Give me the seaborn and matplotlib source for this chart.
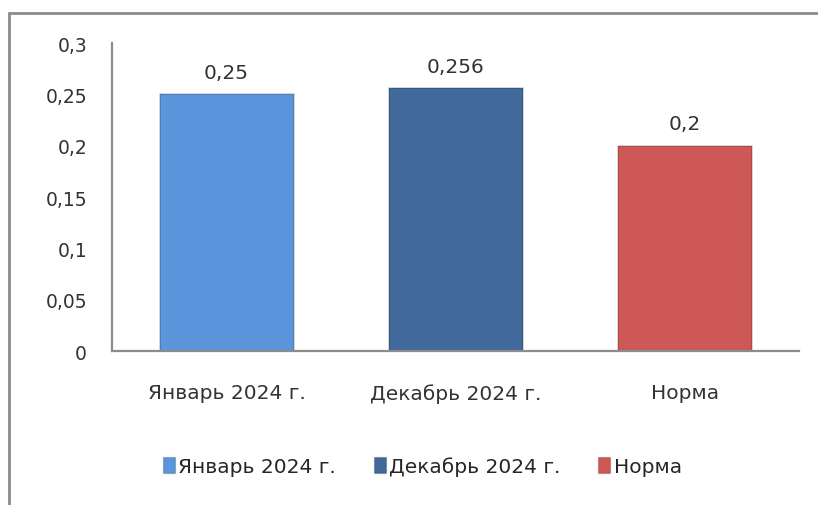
import pandas as pd
import matplotlib.pyplot as plt
import seaborn as sns
from matplotlib.lines import Line2D

categories = ["Январь 2024 г.", "Декабрь 2024 г.", "Норма"]
values = [0.25, 0.256, 0.2]
value_labels = ["0,25", "0,256", "0,2"]
colors = ["#5b96dc", "#41699b", "#cd5856"]
y_ticks = [0, 0.05, 0.1, 0.15, 0.2, 0.25, 0.3]
y_tick_labels = ["0", "0,05", "0,1", "0,15", "0,2", "0,25", "0,3"]

sns.set_style("white")
plt.rcParams["font.family"] = ["DejaVu Sans"]

df = pd.DataFrame({"cat": categories, "val": values})

fig = plt.figure(figsize=(8.18, 5.06), dpi=100)
ax = fig.add_axes([0.137, 0.304, 0.840, 0.609])

sns.barplot(data=df, x="cat", y="val", hue="cat", palette=colors,
            width=0.585, saturation=1, legend=False, ax=ax,
            edgecolor="#00000030", linewidth=1.2)

# подписи значений
for cont, lab in zip(ax.containers, value_labels):
    ax.bar_label(cont, labels=[lab], padding=9, fontsize=14.5, color="#333333")

ax.set_ylim(0, 0.3)
ax.set_yticks(y_ticks)
ax.set_yticklabels(y_tick_labels)
ax.set_xlabel("")
ax.set_ylabel("")
ax.tick_params(axis="y", length=0, pad=18, labelsize=13.5, labelcolor="#333333")
ax.tick_params(axis="x", length=0, pad=23, labelsize=14.5, labelcolor="#333333")

sns.despine(ax=ax)
for s in ["left", "bottom"]:
    ax.spines[s].set_color("#8c8c8c")
    ax.spines[s].set_linewidth(1.6)

# легенда внизу
handles = [plt.Rectangle((0, 0), 1, 1, facecolor=c, edgecolor="#00000030") for c in colors]
fig.legend(handles, categories, loc="center", bbox_to_anchor=(0.516, 0.077),
           ncol=3, frameon=False, fontsize=14.5, handlelength=0.6, handleheight=0.8,
           handletextpad=0.15, columnspacing=1.9)

# рамка области диаграммы
fig.add_artist(Line2D([0.011, 0.011], [0, 0.972], color="#8c8c8c", lw=2))
fig.add_artist(Line2D([0.011, 1], [0.972, 0.972], color="#8c8c8c", lw=2))

plt.savefig("out.png", dpi=100)
